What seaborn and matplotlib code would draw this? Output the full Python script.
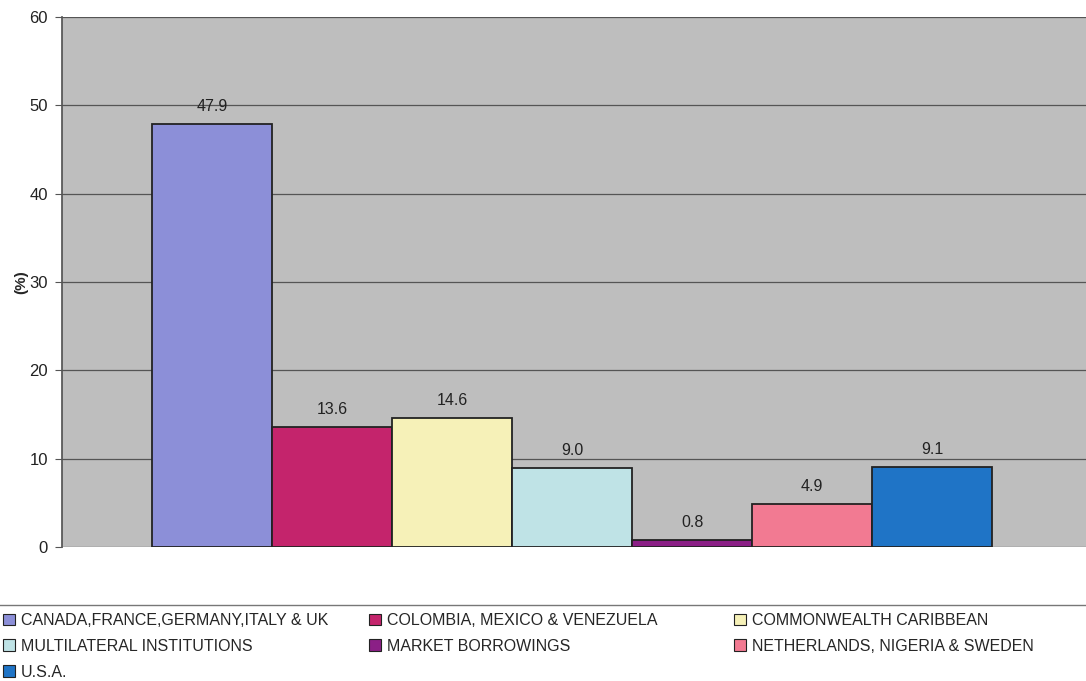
import matplotlib
matplotlib.use("Agg")
import matplotlib.pyplot as plt
import seaborn as sns
import pandas as pd
from matplotlib.patches import Patch, Rectangle

# sources of external debt, share in %
sources = [
    "CANADA,FRANCE,GERMANY,ITALY & UK",
    "COLOMBIA, MEXICO & VENEZUELA",
    "COMMONWEALTH CARIBBEAN",
    "MULTILATERAL INSTITUTIONS",
    "MARKET BORROWINGS",
    "NETHERLANDS, NIGERIA & SWEDEN",
    "U.S.A.",
]
shares = [47.9, 13.6, 14.6, 9.0, 0.8, 4.9, 9.1]
colors = ["#8c8fd8", "#c4246c", "#f6f1b8", "#bfe3e6", "#8b1f86", "#f27a92", "#1f74c6"]

sns.set_theme(style="white")
plt.rcParams["font.family"] = ["Liberation Sans", "DejaVu Sans"]

df = pd.DataFrame({"source": sources, "share": shares})

fig = plt.figure(figsize=(10.86, 6.81), dpi=100)
ax = fig.add_axes([0.0571, 0.1968, 0.9429, 0.778])
ax.set_facecolor("#bebebe")

sns.barplot(data=df, x="source", y="share", hue="source", palette=colors,
            width=1.0, edgecolor="#222222", linewidth=1.3, legend=False,
            saturation=1, ax=ax, zorder=3)

for cont in ax.containers:
    ax.bar_label(cont, fmt="%.1f", padding=7, fontsize=11.5, color="#222222")

ax.set_ylim(0, 60)
ax.set_xlim(-1.25, 7.28)
ax.set_yticks(range(0, 61, 10))
ax.yaxis.grid(True, color="#555555", linewidth=0.9, zorder=0)
ax.set_axisbelow(True)
ax.set_xticks([])
ax.set_xlabel("")
ax.set_ylabel("(%)", fontsize=11, fontweight="bold", labelpad=1)
ax.tick_params(axis="y", left=True, length=5, width=0.8, color="#555555",
               labelsize=12, labelcolor="#222222", pad=5)
for side in ["top", "right", "bottom"]:
    ax.spines[side].set_visible(False)
ax.spines["left"].set_color("#555555")

# legend box at the bottom, three columns placed like the original
fig.patches.append(Rectangle((-0.01, -0.05), 1.02, 1 - 605 / 681 + 0.05,
                             transform=fig.transFigure, fill=False,
                             edgecolor="#777777", linewidth=1.0))
columns = [[0, 3, 6], [1, 4], [2, 5]]
col_x = [3, 369, 734]
for idx, x0 in zip(columns, col_x):
    handles = [Patch(facecolor=colors[i], edgecolor="#222222", linewidth=0.8) for i in idx]
    fig.legend(handles, [sources[i] for i in idx], loc="upper left",
               bbox_to_anchor=(x0 / 1086, 1 - 613 / 681), frameon=False,
               borderpad=0, borderaxespad=0, handlelength=0.75, handleheight=0.75,
               handletextpad=0.35, labelspacing=0.68,
               prop={"family": ["Liberation Sans Narrow", "Liberation Sans"], "size": 11.5})

fig.savefig("out.png", dpi=100)
